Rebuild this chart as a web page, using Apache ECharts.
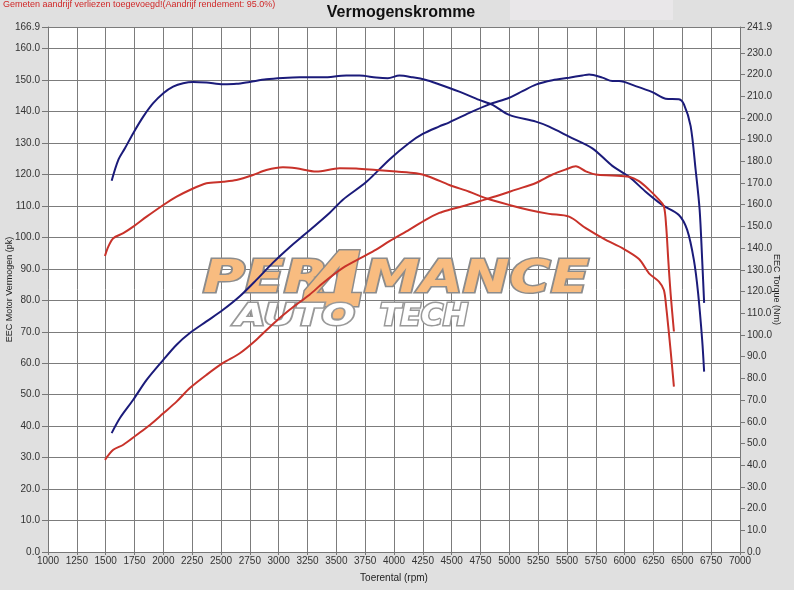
<!DOCTYPE html>
<html><head><meta charset="utf-8">
<script src="https://cdn.jsdelivr.net/npm/echarts@6/dist/echarts.min.js"></script>
<style>html,body{margin:0;padding:0;background:#e0e0e0}#c{width:794px;height:590px}</style>
</head><body><div id="c"></div>
<script>
// Tuned (blue) power, pk
const bluePowerRpm = [1552,1624,1739,1855,2000,2115,2230,2374,2518,2663,2807,2951,3095,3240,3441,3557,3759,3961,4134,4249,4393,4480,4653,4826,4999,5114,5230,5374,5518,5634,5692,5807,5893,5951,6095,6240,6355,6470,6514,6572,6615,6650,6672,6689];
const bluePowerPk  = [37.8,42.6,48.4,54.7,61.1,65.9,69.6,73.3,77.0,81.3,86.5,92.0,96.9,101.4,107.8,112.0,117.6,124.8,130.1,132.9,135.3,136.6,139.6,142.3,144.4,146.5,148.6,150.0,150.8,151.5,151.8,150.8,149.7,149.7,148.1,146.2,144.1,143.9,142.3,135.4,121.6,108.8,92.9,79.2];
// Tuned (blue) torque, Nm
const blueTorqueRpm = [1552,1609,1667,1739,1826,1912,2000,2085,2172,2258,2374,2518,2634,2749,2893,3037,3182,3384,3586,3701,3845,3946,4047,4162,4278,4365,4566,4739,4855,4999,5230,5345,5518,5720,5893,6038,6182,6326,6470,6542,6600,6637,6672,6689];
const blueTorqueNm  = [171.1,180.6,186.0,193.0,200.6,206.8,211.4,214.4,216.0,216.6,216.3,215.5,215.7,216.6,217.8,218.4,218.7,218.7,219.5,219.5,218.6,218.3,219.5,218.7,217.5,216.0,212.1,208.3,206.0,201.4,198.3,196.0,191.4,186.0,177.9,172.9,166.0,159.9,155.3,148.4,134.6,119.2,97.7,83.1];
// Stock (red) power, pk
const redPowerRpm = [1494,1566,1653,1768,1884,2000,2115,2230,2374,2518,2663,2807,2951,3095,3268,3384,3557,3730,3845,3961,4134,4278,4393,4480,4595,4739,4884,5057,5230,5374,5489,5576,5663,5749,5893,6038,6124,6211,6297,6340,6360,6378,6398,6427];
const redPowerPk  = [29.3,32.5,34.1,37.2,40.4,44.1,47.8,52.1,56.3,60.1,63.2,67.5,72.5,77.0,81.8,85.5,90.3,93.8,96.1,98.8,102.5,105.7,107.8,108.8,109.9,111.5,113.1,115.2,117.3,120.0,121.6,122.6,121.0,120.0,119.7,119.3,117.9,115.2,112.0,109.9,103.5,92.9,82.3,70.1];
// Stock (red) torque, Nm
const redTorqueRpm = [1494,1523,1566,1653,1739,1855,2000,2115,2230,2374,2518,2634,2778,2893,3037,3153,3326,3528,3672,3845,4019,4192,4307,4480,4653,4797,4999,5172,5345,5518,5663,5836,5980,6124,6211,6297,6340,6360,6378,6398,6427];
const redTorqueNm  = [136.4,140.7,144.6,146.9,149.9,154.5,159.9,163.7,166.8,169.9,170.6,171.4,173.7,176.0,177.3,176.8,175.3,176.8,176.7,176.0,175.3,174.5,172.9,169.1,166.0,163.0,159.9,157.6,155.8,154.5,149.2,143.8,140.0,135.0,128.4,124.6,120.7,113.0,103.8,93.0,76.2];

// Tick labels
const leftTicks  = [0,10,20,30,40,50,60,70,80,90,100,110,120,130,140,150,160,166.9];
const rightTicks = [0,10,20,30,40,50,60,70,80,90,100,110,120,130,140,150,160,170,180,190,200,210,220,230,241.9];

const titleText = 'Vermogenskromme';
const noteText = 'Gemeten aandrijf verliezen toegevoegd!(Aandrijf rendement: 95.0%)';
const xName = 'Toerental (rpm)';
const yLeftName = 'EEC Motor Vermogen (pk)';
const yRightName = 'EEC Torque (Nm)';

const zip = (a, b) => a.map((v, i) => [v, b[i]]);
const BLUE = '#1b1b7a', RED = '#c8322a';
const FF = 'Liberation Sans, Arial, sans-serif';
const lbl = {fontFamily: FF, fontSize: 10, color: '#333'};

const chart = echarts.init(document.getElementById('c'), null, {renderer: 'canvas'});
chart.setOption({
  backgroundColor: '#e0e0e0',
  animation: false,
  title: {text: titleText, left: 396, top: 0, textAlign: 'center',
    textStyle: {fontFamily: FF, fontSize: 16, fontWeight: 'bold', color: '#111'}},
  graphic: [
    {type: 'rect', z: -1, shape: {x: 510, y: 0, width: 163, height: 20}, style: {fill: '#e9e7e9'}},
    {type: 'text', left: 3, top: 0, style: {text: noteText, fill: '#d02828', font: '9px Liberation Sans, Arial, sans-serif'}},
    // watermark logo
    {type: 'text', z: 1, x: 203, y: 259, scaleX: 1.3, style: {text: 'PER', fill: '#f8bc80', stroke: '#8c8c8c', lineWidth: 3, font: 'italic bold 44px DejaVu Sans'}},
    {type: 'text', z: 1, x: 364, y: 259, scaleX: 1.27, style: {text: 'MANCE', fill: '#f8bc80', stroke: '#8c8c8c', lineWidth: 3, font: 'italic bold 44px DejaVu Sans'}},
    {type: 'text', z: 1, x: 302, y: 248, style: {text: '4', fill: '#f8bc80', stroke: '#8c8c8c', lineWidth: 3, font: 'italic bold 92px DejaVu Sans'}},
    {type: 'text', z: 1, x: 235, y: 302, scaleX: 1.3, style: {text: 'AUTO', fill: '#ffffff', stroke: '#999999', lineWidth: 3, font: 'italic bold 30px DejaVu Sans'}},
    {type: 'text', z: 1, x: 380, y: 302, style: {text: 'TECH', fill: '#ffffff', stroke: '#999999', lineWidth: 3, font: 'italic bold 30px DejaVu Sans'}}
  ],
  grid: {left: 48, right: 54, top: 27, bottom: 38, outerBoundsMode: 'none', containLabel: false,
    show: true, backgroundColor: '#ffffff', borderWidth: 0},
  xAxis: {
    type: 'value', min: 1000, max: 7000, interval: 250,
    name: xName, nameLocation: 'middle', nameGap: 21, nameMoveOverlap: false,
    nameTextStyle: {fontFamily: FF, fontSize: 10, color: '#222'},
    axisLine: {show: true, lineStyle: {color: '#777'}},
    axisTick: {show: true, length: 3, lineStyle: {color: '#777'}},
    axisLabel: Object.assign({margin: 4, interval: 0, formatter: v => String(v)}, lbl),
    splitLine: {show: true, lineStyle: {color: '#7c7c7c', width: 1}}
  },
  yAxis: [
    {
      type: 'value', min: 0, max: 166.9, interval: 10, position: 'left',
      name: yLeftName, nameLocation: 'middle', nameGap: 34, nameRotate: 90, nameMoveOverlap: false,
      nameTextStyle: {fontFamily: FF, fontSize: 9, color: '#222'},
      axisLine: {show: true, lineStyle: {color: '#777'}},
      axisTick: {show: true, length: 6, lineStyle: {color: '#777'}, customValues: leftTicks},
      axisLabel: Object.assign({margin: 8, formatter: v => v.toFixed(1), customValues: leftTicks}, lbl),
      splitLine: {show: true, lineStyle: {color: '#7c7c7c', width: 1}}
    },
    {
      type: 'value', min: 0, max: 241.9, interval: 10, position: 'right',
      name: yRightName, nameLocation: 'middle', nameGap: 32, nameRotate: -90, nameMoveOverlap: false,
      nameTextStyle: {fontFamily: FF, fontSize: 9, color: '#222'},
      axisLine: {show: true, lineStyle: {color: '#777'}},
      axisTick: {show: true, length: 5, lineStyle: {color: '#777'}, customValues: rightTicks},
      axisLabel: Object.assign({margin: 7, formatter: v => v.toFixed(1), customValues: rightTicks}, lbl),
      splitLine: {show: false}
    }
  ],
  series: [
    {type: 'line', name: 'Vermogen tuned', yAxisIndex: 0, data: zip(bluePowerRpm, bluePowerPk), smooth: 0.3, showSymbol: false, z: 3, lineStyle: {color: BLUE, width: 2}},
    {type: 'line', name: 'Koppel tuned', yAxisIndex: 1, data: zip(blueTorqueRpm, blueTorqueNm), smooth: 0.3, showSymbol: false, z: 3, lineStyle: {color: BLUE, width: 2}},
    {type: 'line', name: 'Vermogen stock', yAxisIndex: 0, data: zip(redPowerRpm, redPowerPk), smooth: 0.3, showSymbol: false, z: 3, lineStyle: {color: RED, width: 2}},
    {type: 'line', name: 'Koppel stock', yAxisIndex: 1, data: zip(redTorqueRpm, redTorqueNm), smooth: 0.3, showSymbol: false, z: 3, lineStyle: {color: RED, width: 2}}
  ]
});
</script></body></html>
